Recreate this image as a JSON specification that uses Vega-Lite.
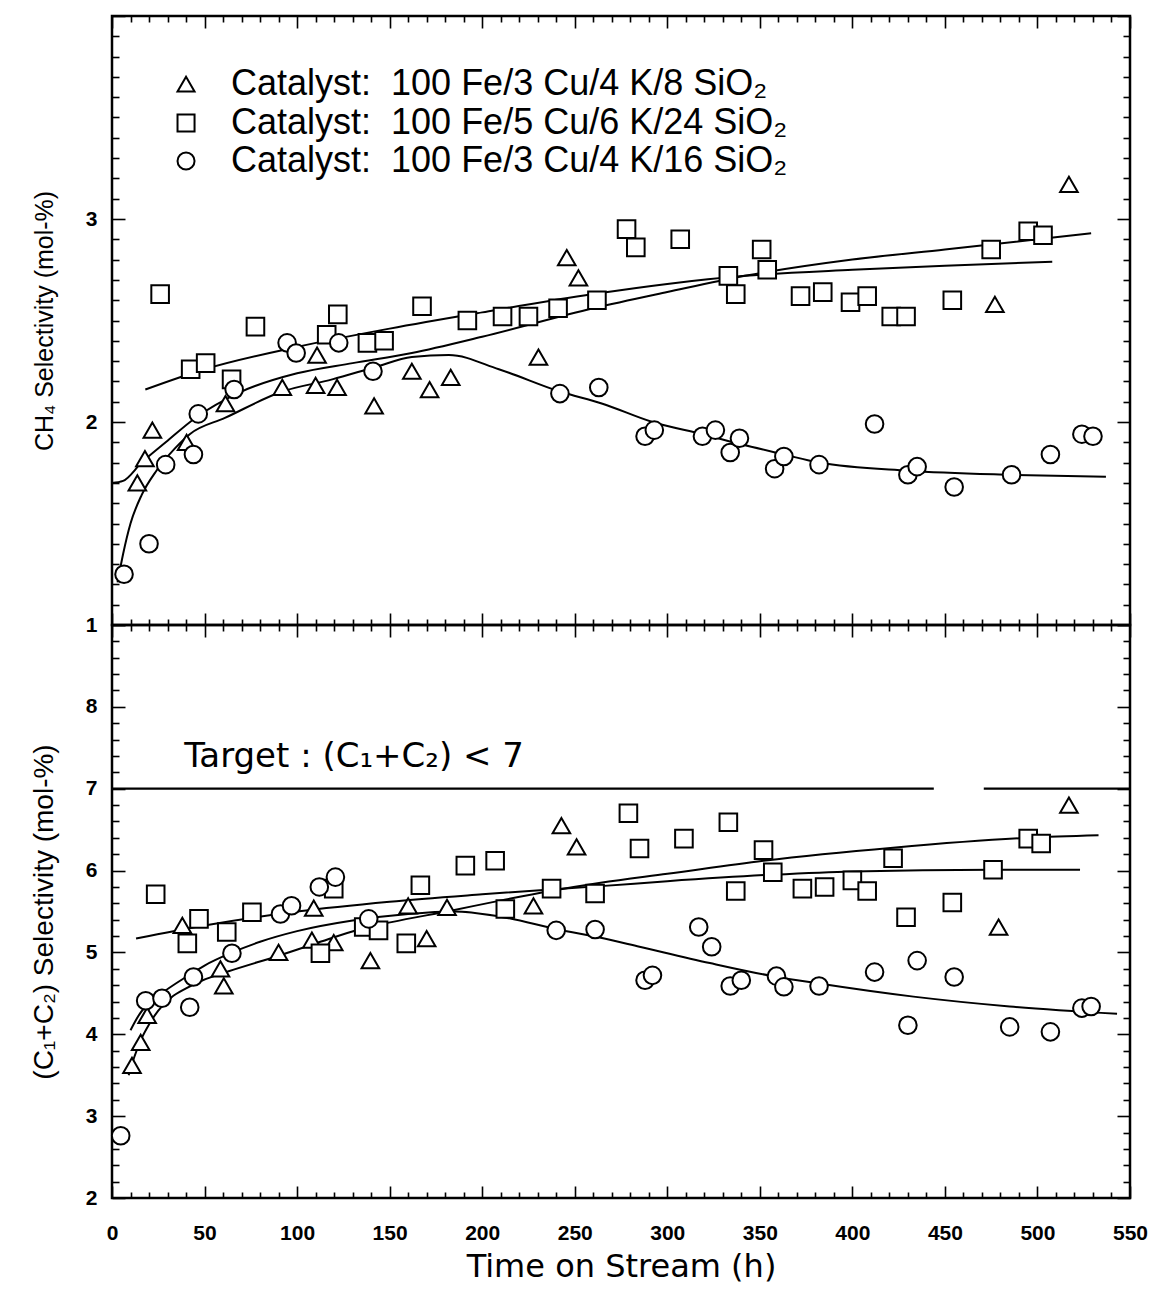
{
  "$schema": "https://vega.github.io/schema/vega-lite/v6.json",
  "background": "white",
  "padding": {"left": 29, "top": 13, "right": 20, "bottom": 5},
  "spacing": 0,
  "bounds": "flush",
  "config": {
    "view": {"stroke": "black", "strokeWidth": 2.5},
    "axis": {"domain": false, "grid": false, "tickColor": "black", "tickWidth": 1.6, "labelFont": "Liberation Sans", "labelFontWeight": "bold", "labelColor": "black", "labelFlush": false, "labelOverlap": false, "format": ".0f", "titleFont": "Liberation Sans", "titleFontWeight": "normal", "titleColor": "black"}
  },
  "resolve": {"scale": {"shape": "independent"}},
  "datasets": {
    "pts": [
      {"p":"CH4","s":"A","t":13.7,"v":1.70},{"p":"CH4","s":"A","t":17.8,"v":1.82},{"p":"CH4","s":"A","t":21.8,"v":1.96},{"p":"CH4","s":"A","t":40.3,"v":1.90},{"p":"CH4","s":"A","t":61.3,"v":2.09},{"p":"CH4","s":"A","t":92,"v":2.17},{"p":"CH4","s":"A","t":110,"v":2.18},{"p":"CH4","s":"A","t":110.8,"v":2.33},{"p":"CH4","s":"A","t":121.6,"v":2.17},{"p":"CH4","s":"A","t":141.6,"v":2.08},{"p":"CH4","s":"A","t":162,"v":2.25},{"p":"CH4","s":"A","t":171.6,"v":2.16},{"p":"CH4","s":"A","t":183,"v":2.22},{"p":"CH4","s":"A","t":230.4,"v":2.32},{"p":"CH4","s":"A","t":245.7,"v":2.81},{"p":"CH4","s":"A","t":252,"v":2.71},{"p":"CH4","s":"A","t":477,"v":2.58},{"p":"CH4","s":"A","t":517,"v":3.17},
      {"p":"CH4","s":"B","t":26,"v":2.63},{"p":"CH4","s":"B","t":42.5,"v":2.26},{"p":"CH4","s":"B","t":50.6,"v":2.29},{"p":"CH4","s":"B","t":64.6,"v":2.21},{"p":"CH4","s":"B","t":77.5,"v":2.47},{"p":"CH4","s":"B","t":116,"v":2.43},{"p":"CH4","s":"B","t":122,"v":2.53},{"p":"CH4","s":"B","t":138,"v":2.39},{"p":"CH4","s":"B","t":147,"v":2.40},{"p":"CH4","s":"B","t":167.5,"v":2.57},{"p":"CH4","s":"B","t":192,"v":2.50},{"p":"CH4","s":"B","t":211,"v":2.52},{"p":"CH4","s":"B","t":225,"v":2.52},{"p":"CH4","s":"B","t":241,"v":2.56},{"p":"CH4","s":"B","t":262,"v":2.60},{"p":"CH4","s":"B","t":278,"v":2.95},{"p":"CH4","s":"B","t":283,"v":2.86},{"p":"CH4","s":"B","t":307,"v":2.90},{"p":"CH4","s":"B","t":333,"v":2.72},{"p":"CH4","s":"B","t":337,"v":2.63},{"p":"CH4","s":"B","t":351,"v":2.85},{"p":"CH4","s":"B","t":354,"v":2.75},{"p":"CH4","s":"B","t":372,"v":2.62},{"p":"CH4","s":"B","t":384,"v":2.64},{"p":"CH4","s":"B","t":399,"v":2.59},{"p":"CH4","s":"B","t":408,"v":2.62},{"p":"CH4","s":"B","t":421,"v":2.52},{"p":"CH4","s":"B","t":429,"v":2.52},{"p":"CH4","s":"B","t":454,"v":2.60},{"p":"CH4","s":"B","t":475,"v":2.85},{"p":"CH4","s":"B","t":495,"v":2.94},{"p":"CH4","s":"B","t":503,"v":2.92},
      {"p":"CH4","s":"C","t":6.5,"v":1.25},{"p":"CH4","s":"C","t":20,"v":1.40},{"p":"CH4","s":"C","t":29,"v":1.79},{"p":"CH4","s":"C","t":44,"v":1.84},{"p":"CH4","s":"C","t":46.6,"v":2.04},{"p":"CH4","s":"C","t":66,"v":2.16},{"p":"CH4","s":"C","t":94.6,"v":2.39},{"p":"CH4","s":"C","t":99.5,"v":2.34},{"p":"CH4","s":"C","t":122.5,"v":2.39},{"p":"CH4","s":"C","t":141,"v":2.25},{"p":"CH4","s":"C","t":242,"v":2.14},{"p":"CH4","s":"C","t":263,"v":2.17},{"p":"CH4","s":"C","t":288,"v":1.93},{"p":"CH4","s":"C","t":293,"v":1.96},{"p":"CH4","s":"C","t":319,"v":1.93},{"p":"CH4","s":"C","t":326,"v":1.96},{"p":"CH4","s":"C","t":334,"v":1.85},{"p":"CH4","s":"C","t":339,"v":1.92},{"p":"CH4","s":"C","t":358,"v":1.77},{"p":"CH4","s":"C","t":363,"v":1.83},{"p":"CH4","s":"C","t":382,"v":1.79},{"p":"CH4","s":"C","t":412,"v":1.99},{"p":"CH4","s":"C","t":430,"v":1.74},{"p":"CH4","s":"C","t":435,"v":1.78},{"p":"CH4","s":"C","t":455,"v":1.68},{"p":"CH4","s":"C","t":486,"v":1.74},{"p":"CH4","s":"C","t":507,"v":1.84},{"p":"CH4","s":"C","t":524,"v":1.94},{"p":"CH4","s":"C","t":530,"v":1.93},
      {"p":"C12","s":"A","t":10.8,"v":3.62},{"p":"C12","s":"A","t":15.5,"v":3.90},{"p":"C12","s":"A","t":19,"v":4.23},{"p":"C12","s":"A","t":38,"v":5.33},{"p":"C12","s":"A","t":58.6,"v":4.80},{"p":"C12","s":"A","t":60.4,"v":4.59},{"p":"C12","s":"A","t":90,"v":5.00},{"p":"C12","s":"A","t":108,"v":5.15},{"p":"C12","s":"A","t":109,"v":5.54},{"p":"C12","s":"A","t":119.8,"v":5.12},{"p":"C12","s":"A","t":139.6,"v":4.90},{"p":"C12","s":"A","t":160,"v":5.57},{"p":"C12","s":"A","t":170,"v":5.17},{"p":"C12","s":"A","t":181,"v":5.55},{"p":"C12","s":"A","t":227.7,"v":5.57},{"p":"C12","s":"A","t":242.8,"v":6.55},{"p":"C12","s":"A","t":251,"v":6.29},{"p":"C12","s":"A","t":479,"v":5.31},{"p":"C12","s":"A","t":517,"v":6.80},
      {"p":"C12","s":"B","t":23.6,"v":5.71},{"p":"C12","s":"B","t":40.7,"v":5.11},{"p":"C12","s":"B","t":47,"v":5.41},{"p":"C12","s":"B","t":62,"v":5.25},{"p":"C12","s":"B","t":75.6,"v":5.49},{"p":"C12","s":"B","t":112.6,"v":4.99},{"p":"C12","s":"B","t":119.8,"v":5.78},{"p":"C12","s":"B","t":136,"v":5.31},{"p":"C12","s":"B","t":144,"v":5.27},{"p":"C12","s":"B","t":159,"v":5.11},{"p":"C12","s":"B","t":166.6,"v":5.82},{"p":"C12","s":"B","t":190.9,"v":6.06},{"p":"C12","s":"B","t":207,"v":6.12},{"p":"C12","s":"B","t":212.5,"v":5.53},{"p":"C12","s":"B","t":237.5,"v":5.78},{"p":"C12","s":"B","t":261,"v":5.72},{"p":"C12","s":"B","t":279,"v":6.70},{"p":"C12","s":"B","t":285,"v":6.27},{"p":"C12","s":"B","t":309,"v":6.39},{"p":"C12","s":"B","t":333,"v":6.59},{"p":"C12","s":"B","t":337,"v":5.75},{"p":"C12","s":"B","t":352,"v":6.25},{"p":"C12","s":"B","t":357,"v":5.98},{"p":"C12","s":"B","t":373,"v":5.78},{"p":"C12","s":"B","t":385,"v":5.80},{"p":"C12","s":"B","t":400,"v":5.88},{"p":"C12","s":"B","t":408,"v":5.75},{"p":"C12","s":"B","t":422,"v":6.15},{"p":"C12","s":"B","t":429,"v":5.43},{"p":"C12","s":"B","t":454,"v":5.61},{"p":"C12","s":"B","t":476,"v":6.01},{"p":"C12","s":"B","t":495,"v":6.39},{"p":"C12","s":"B","t":502,"v":6.33},
      {"p":"C12","s":"C","t":4.7,"v":2.76},{"p":"C12","s":"C","t":18.2,"v":4.41},{"p":"C12","s":"C","t":27,"v":4.44},{"p":"C12","s":"C","t":42,"v":4.33},{"p":"C12","s":"C","t":44,"v":4.70},{"p":"C12","s":"C","t":64.8,"v":4.99},{"p":"C12","s":"C","t":91,"v":5.47},{"p":"C12","s":"C","t":97,"v":5.57},{"p":"C12","s":"C","t":112,"v":5.80},{"p":"C12","s":"C","t":120.7,"v":5.92},{"p":"C12","s":"C","t":138.7,"v":5.41},{"p":"C12","s":"C","t":240,"v":5.27},{"p":"C12","s":"C","t":261,"v":5.28},{"p":"C12","s":"C","t":288,"v":4.66},{"p":"C12","s":"C","t":292,"v":4.72},{"p":"C12","s":"C","t":317,"v":5.31},{"p":"C12","s":"C","t":324,"v":5.07},{"p":"C12","s":"C","t":334,"v":4.59},{"p":"C12","s":"C","t":340,"v":4.66},{"p":"C12","s":"C","t":359,"v":4.71},{"p":"C12","s":"C","t":363,"v":4.58},{"p":"C12","s":"C","t":382,"v":4.59},{"p":"C12","s":"C","t":412,"v":4.76},{"p":"C12","s":"C","t":430,"v":4.11},{"p":"C12","s":"C","t":435,"v":4.90},{"p":"C12","s":"C","t":455,"v":4.70},{"p":"C12","s":"C","t":485,"v":4.09},{"p":"C12","s":"C","t":507,"v":4.03},{"p":"C12","s":"C","t":524,"v":4.32},{"p":"C12","s":"C","t":529,"v":4.34}
    ],
    "curves": [
      {"p":"CH4","s":"A","t":0,"v":1.70},{"p":"CH4","s":"A","t":6,"v":1.71},{"p":"CH4","s":"A","t":16,"v":1.80},{"p":"CH4","s":"A","t":29,"v":1.90},{"p":"CH4","s":"A","t":45,"v":2.02},{"p":"CH4","s":"A","t":70,"v":2.15},{"p":"CH4","s":"A","t":100,"v":2.24},{"p":"CH4","s":"A","t":130,"v":2.29},{"p":"CH4","s":"A","t":162,"v":2.34},{"p":"CH4","s":"A","t":200,"v":2.42},{"p":"CH4","s":"A","t":260,"v":2.56},{"p":"CH4","s":"A","t":300,"v":2.64},{"p":"CH4","s":"A","t":342,"v":2.72},{"p":"CH4","s":"A","t":400,"v":2.80},{"p":"CH4","s":"A","t":450,"v":2.85},{"p":"CH4","s":"A","t":500,"v":2.90},{"p":"CH4","s":"A","t":529,"v":2.93},
      {"p":"CH4","s":"B","t":18,"v":2.16},{"p":"CH4","s":"B","t":50,"v":2.26},{"p":"CH4","s":"B","t":100,"v":2.37},{"p":"CH4","s":"B","t":150,"v":2.46},{"p":"CH4","s":"B","t":200,"v":2.54},{"p":"CH4","s":"B","t":260,"v":2.63},{"p":"CH4","s":"B","t":300,"v":2.68},{"p":"CH4","s":"B","t":342,"v":2.72},{"p":"CH4","s":"B","t":400,"v":2.75},{"p":"CH4","s":"B","t":450,"v":2.77},{"p":"CH4","s":"B","t":508,"v":2.79},
      {"p":"CH4","s":"C","t":3,"v":1.21},{"p":"CH4","s":"C","t":6,"v":1.35},{"p":"CH4","s":"C","t":10,"v":1.50},{"p":"CH4","s":"C","t":16,"v":1.64},{"p":"CH4","s":"C","t":24,"v":1.76},{"p":"CH4","s":"C","t":34,"v":1.87},{"p":"CH4","s":"C","t":42,"v":1.94},{"p":"CH4","s":"C","t":61,"v":2.02},{"p":"CH4","s":"C","t":92,"v":2.15},{"p":"CH4","s":"C","t":119,"v":2.21},{"p":"CH4","s":"C","t":142,"v":2.27},{"p":"CH4","s":"C","t":162,"v":2.32},{"p":"CH4","s":"C","t":182,"v":2.33},{"p":"CH4","s":"C","t":209,"v":2.26},{"p":"CH4","s":"C","t":242,"v":2.15},{"p":"CH4","s":"C","t":265,"v":2.09},{"p":"CH4","s":"C","t":292,"v":2.00},{"p":"CH4","s":"C","t":319,"v":1.94},{"p":"CH4","s":"C","t":340,"v":1.89},{"p":"CH4","s":"C","t":363,"v":1.84},{"p":"CH4","s":"C","t":382,"v":1.80},{"p":"CH4","s":"C","t":430,"v":1.76},{"p":"CH4","s":"C","t":486,"v":1.74},{"p":"CH4","s":"C","t":537,"v":1.73},
      {"p":"C12","s":"A","t":9,"v":3.50},{"p":"C12","s":"A","t":12,"v":3.72},{"p":"C12","s":"A","t":16,"v":3.95},{"p":"C12","s":"A","t":20,"v":4.12},{"p":"C12","s":"A","t":25,"v":4.29},{"p":"C12","s":"A","t":32,"v":4.45},{"p":"C12","s":"A","t":40,"v":4.56},{"p":"C12","s":"A","t":49,"v":4.66},{"p":"C12","s":"A","t":63,"v":4.77},{"p":"C12","s":"A","t":90,"v":4.96},{"p":"C12","s":"A","t":110,"v":5.11},{"p":"C12","s":"A","t":135,"v":5.29},{"p":"C12","s":"A","t":151,"v":5.37},{"p":"C12","s":"A","t":183,"v":5.51},{"p":"C12","s":"A","t":209,"v":5.63},{"p":"C12","s":"A","t":237,"v":5.75},{"p":"C12","s":"A","t":264,"v":5.85},{"p":"C12","s":"A","t":300,"v":5.96},{"p":"C12","s":"A","t":352,"v":6.12},{"p":"C12","s":"A","t":422,"v":6.28},{"p":"C12","s":"A","t":495,"v":6.40},{"p":"C12","s":"A","t":533,"v":6.43},
      {"p":"C12","s":"B","t":13,"v":5.17},{"p":"C12","s":"B","t":50,"v":5.33},{"p":"C12","s":"B","t":100,"v":5.50},{"p":"C12","s":"B","t":150,"v":5.62},{"p":"C12","s":"B","t":200,"v":5.71},{"p":"C12","s":"B","t":237,"v":5.77},{"p":"C12","s":"B","t":264,"v":5.81},{"p":"C12","s":"B","t":300,"v":5.87},{"p":"C12","s":"B","t":357,"v":5.95},{"p":"C12","s":"B","t":400,"v":5.99},{"p":"C12","s":"B","t":476,"v":6.01},{"p":"C12","s":"B","t":523,"v":6.01},
      {"p":"C12","s":"C","t":10,"v":4.05},{"p":"C12","s":"C","t":15,"v":4.25},{"p":"C12","s":"C","t":20,"v":4.38},{"p":"C12","s":"C","t":28,"v":4.52},{"p":"C12","s":"C","t":40,"v":4.70},{"p":"C12","s":"C","t":50,"v":4.84},{"p":"C12","s":"C","t":65,"v":5.00},{"p":"C12","s":"C","t":80,"v":5.13},{"p":"C12","s":"C","t":100,"v":5.26},{"p":"C12","s":"C","t":130,"v":5.39},{"p":"C12","s":"C","t":160,"v":5.47},{"p":"C12","s":"C","t":185,"v":5.50},{"p":"C12","s":"C","t":209,"v":5.44},{"p":"C12","s":"C","t":241,"v":5.28},{"p":"C12","s":"C","t":266,"v":5.17},{"p":"C12","s":"C","t":285,"v":5.07},{"p":"C12","s":"C","t":323,"v":4.87},{"p":"C12","s":"C","t":357,"v":4.71},{"p":"C12","s":"C","t":382,"v":4.62},{"p":"C12","s":"C","t":433,"v":4.46},{"p":"C12","s":"C","t":485,"v":4.34},{"p":"C12","s":"C","t":543,"v":4.25}
    ],
    "leg": [
      {"s":"A","t":40,"tl":64.3,"v":3.665,"label":"Catalyst:\u00a0 100 Fe/3 Cu/4 K/8 SiO₂"},
      {"s":"B","t":40,"tl":64.3,"v":3.473,"label":"Catalyst:\u00a0 100 Fe/5 Cu/6 K/24 SiO₂"},
      {"s":"C","t":40,"tl":64.3,"v":3.286,"label":"Catalyst:\u00a0 100 Fe/3 Cu/4 K/16 SiO₂"}
    ],
    "target": [{"t1":0,"t2":444,"v":7},{"t1":471,"t2":550,"v":7}],
    "note": [{"t":39,"v":7.39,"label":"Target : (C₁+C₂) < 7"}]
  },
  "vconcat": [
    {
      "width": 1018,
      "height": 609,
      "layer": [
        {
          "data": {"name": "curves"},
          "transform": [{"filter": "datum.p == 'CH4'"}],
          "mark": {"type": "line", "color": "black", "strokeWidth": 2, "interpolate": "monotone"},
          "encoding": {
            "x": {"field": "t", "type": "quantitative", "scale": {"domain": [0, 550], "nice": false},
              "axis": {"orient": "bottom", "title": null, "labels": false, "values": [0,10,20,30,40,50,60,70,80,90,100,110,120,130,140,150,160,170,180,190,200,210,220,230,240,250,260,270,280,290,300,310,320,330,340,350,360,370,380,390,400,410,420,430,440,450,460,470,480,490,500,510,520,530,540,550],
                "tickSize": {"condition": {"test": "datum.value % 50 === 0", "value": -12}, "value": -6}}},
            "y": {"field": "v", "type": "quantitative", "scale": {"domain": [1, 4], "nice": false},
              "axis": {"orient": "left", "title": "CH₄ Selectivity (mol-%)", "titleFontSize": 25, "titlePadding": 28,
                "values": [1,1.1,1.2,1.3,1.4,1.5,1.6,1.7,1.8,1.9,2,2.1,2.2,2.3,2.4,2.5,2.6,2.7,2.8,2.9,3,3.1,3.2,3.3,3.4,3.5,3.6,3.7,3.8,3.9,4],
                "tickSize": {"condition": {"test": "datum.value % 1 === 0", "value": -13}, "value": -7},
                "labelPadding": 28,
                "labelFontSize": {"condition": {"test": "datum.value % 1 === 0 && datum.value < 4", "value": 21}, "value": 0},
                "labelExpr": "datum.value % 1 === 0 && datum.value < 4 ? datum.label : ''"}},
            "detail": {"field": "s", "type": "nominal"}
          }
        },
        {
          "data": {"name": "pts"},
          "transform": [{"filter": "datum.p == 'CH4'"}],
          "mark": {"type": "point", "filled": false, "color": "black", "fill": "white", "fillOpacity": 1, "strokeWidth": 2, "size": 310},
          "encoding": {
            "x": {"field": "t", "type": "quantitative", "scale": {"domain": [0, 550], "nice": false},
              "axis": {"orient": "top", "title": null, "labels": false, "values": [0,10,20,30,40,50,60,70,80,90,100,110,120,130,140,150,160,170,180,190,200,210,220,230,240,250,260,270,280,290,300,310,320,330,340,350,360,370,380,390,400,410,420,430,440,450,460,470,480,490,500,510,520,530,540,550],
                "tickSize": {"condition": {"test": "datum.value % 50 === 0", "value": -12}, "value": -6}}},
            "y": {"field": "v", "type": "quantitative", "scale": {"domain": [1, 4], "nice": false},
              "axis": {"orient": "right", "title": null, "labels": false,
                "values": [1,1.1,1.2,1.3,1.4,1.5,1.6,1.7,1.8,1.9,2,2.1,2.2,2.3,2.4,2.5,2.6,2.7,2.8,2.9,3,3.1,3.2,3.3,3.4,3.5,3.6,3.7,3.8,3.9,4],
                "tickSize": {"condition": {"test": "datum.value % 1 === 0", "value": -13}, "value": -7}}},
            "shape": {"field": "s", "type": "nominal", "scale": {"domain": ["A","B","C"], "range": ["triangle-up","square","circle"]}, "legend": null}
          }
        },
        {
          "data": {"name": "leg"},
          "mark": {"type": "point", "filled": false, "color": "black", "fill": "white", "fillOpacity": 1, "strokeWidth": 2, "size": 290},
          "encoding": {
            "x": {"field": "t", "type": "quantitative", "scale": {"domain": [0, 550], "nice": false}, "axis": null},
            "y": {"field": "v", "type": "quantitative", "scale": {"domain": [1, 4], "nice": false}, "axis": null},
            "shape": {"field": "s", "type": "nominal", "scale": {"domain": ["A","B","C"], "range": ["triangle-up","square","circle"]}, "legend": null}
          }
        },
        {
          "data": {"name": "leg"},
          "mark": {"type": "text", "align": "left", "baseline": "middle", "font": "Liberation Sans", "fontSize": 36, "color": "black"},
          "encoding": {
            "x": {"field": "tl", "type": "quantitative", "scale": {"domain": [0, 550], "nice": false}, "axis": null},
            "y": {"field": "v", "type": "quantitative", "scale": {"domain": [1, 4], "nice": false}, "axis": null},
            "text": {"field": "label"}
          }
        }
      ],
      "resolve": {"axis": {"x": "independent", "y": "independent"}}
    },
    {
      "width": 1018,
      "height": 573,
      "layer": [
        {
          "data": {"name": "target"},
          "mark": {"type": "rule", "color": "black", "strokeWidth": 2.2},
          "encoding": {
            "x": {"field": "t1", "type": "quantitative", "scale": {"domain": [0, 550], "nice": false}, "axis": null},
            "x2": {"field": "t2"},
            "y": {"field": "v", "type": "quantitative", "scale": {"domain": [2, 9], "nice": false}, "axis": null}
          }
        },
        {
          "data": {"name": "note"},
          "mark": {"type": "text", "align": "left", "baseline": "middle", "font": "DejaVu Sans", "fontSize": 34, "color": "black"},
          "encoding": {
            "x": {"field": "t", "type": "quantitative", "scale": {"domain": [0, 550], "nice": false}, "axis": null},
            "y": {"field": "v", "type": "quantitative", "scale": {"domain": [2, 9], "nice": false}, "axis": null},
            "text": {"field": "label"}
          }
        },
        {
          "data": {"name": "curves"},
          "transform": [{"filter": "datum.p == 'C12'"}],
          "mark": {"type": "line", "color": "black", "strokeWidth": 2, "interpolate": "monotone"},
          "encoding": {
            "x": {"field": "t", "type": "quantitative", "scale": {"domain": [0, 550], "nice": false},
              "axis": {"orient": "bottom", "title": "Time on Stream (h)", "titleFont": "DejaVu Sans", "titleFontSize": 32, "titlePadding": 8,
                "values": [0,10,20,30,40,50,60,70,80,90,100,110,120,130,140,150,160,170,180,190,200,210,220,230,240,250,260,270,280,290,300,310,320,330,340,350,360,370,380,390,400,410,420,430,440,450,460,470,480,490,500,510,520,530,540,550],
                "tickSize": {"condition": {"test": "datum.value % 50 === 0", "value": -12}, "value": -6},
                "labelPadding": 36,
                "labelFontSize": {"condition": {"test": "datum.value % 50 === 0", "value": 21}, "value": 0},
                "labelExpr": "datum.value % 50 === 0 ? datum.label : ''"}},
            "y": {"field": "v", "type": "quantitative", "scale": {"domain": [2, 9], "nice": false},
              "axis": {"orient": "left", "title": "(C₁+C₂) Selectivity (mol-%)", "titleFontSize": 28, "titlePadding": 27,
                "values": [2,2.2,2.4,2.6,2.8,3,3.2,3.4,3.6,3.8,4,4.2,4.4,4.6,4.8,5,5.2,5.4,5.6,5.8,6,6.2,6.4,6.6,6.8,7,7.2,7.4,7.6,7.8,8,8.2,8.4,8.6,8.8,9],
                "tickSize": {"condition": {"test": "datum.value % 1 === 0", "value": -13}, "value": -7},
                "labelPadding": 28,
                "labelFontSize": {"condition": {"test": "datum.value % 1 === 0 && datum.value < 9", "value": 21}, "value": 0},
                "labelExpr": "datum.value % 1 === 0 && datum.value < 9 ? datum.label : ''"}},
            "detail": {"field": "s", "type": "nominal"}
          }
        },
        {
          "data": {"name": "pts"},
          "transform": [{"filter": "datum.p == 'C12'"}],
          "mark": {"type": "point", "filled": false, "color": "black", "fill": "white", "fillOpacity": 1, "strokeWidth": 2, "size": 310},
          "encoding": {
            "x": {"field": "t", "type": "quantitative", "scale": {"domain": [0, 550], "nice": false},
              "axis": {"orient": "top", "title": null, "labels": false, "values": [0,10,20,30,40,50,60,70,80,90,100,110,120,130,140,150,160,170,180,190,200,210,220,230,240,250,260,270,280,290,300,310,320,330,340,350,360,370,380,390,400,410,420,430,440,450,460,470,480,490,500,510,520,530,540,550],
                "tickSize": {"condition": {"test": "datum.value % 50 === 0", "value": -12}, "value": -6}}},
            "y": {"field": "v", "type": "quantitative", "scale": {"domain": [2, 9], "nice": false},
              "axis": {"orient": "right", "title": null, "labels": false,
                "values": [2,2.2,2.4,2.6,2.8,3,3.2,3.4,3.6,3.8,4,4.2,4.4,4.6,4.8,5,5.2,5.4,5.6,5.8,6,6.2,6.4,6.6,6.8,7,7.2,7.4,7.6,7.8,8,8.2,8.4,8.6,8.8,9],
                "tickSize": {"condition": {"test": "datum.value % 1 === 0", "value": -13}, "value": -7}}},
            "shape": {"field": "s", "type": "nominal", "scale": {"domain": ["A","B","C"], "range": ["triangle-up","square","circle"]}, "legend": null}
          }
        }
      ],
      "resolve": {"axis": {"x": "independent", "y": "independent"}}
    }
  ]
}
